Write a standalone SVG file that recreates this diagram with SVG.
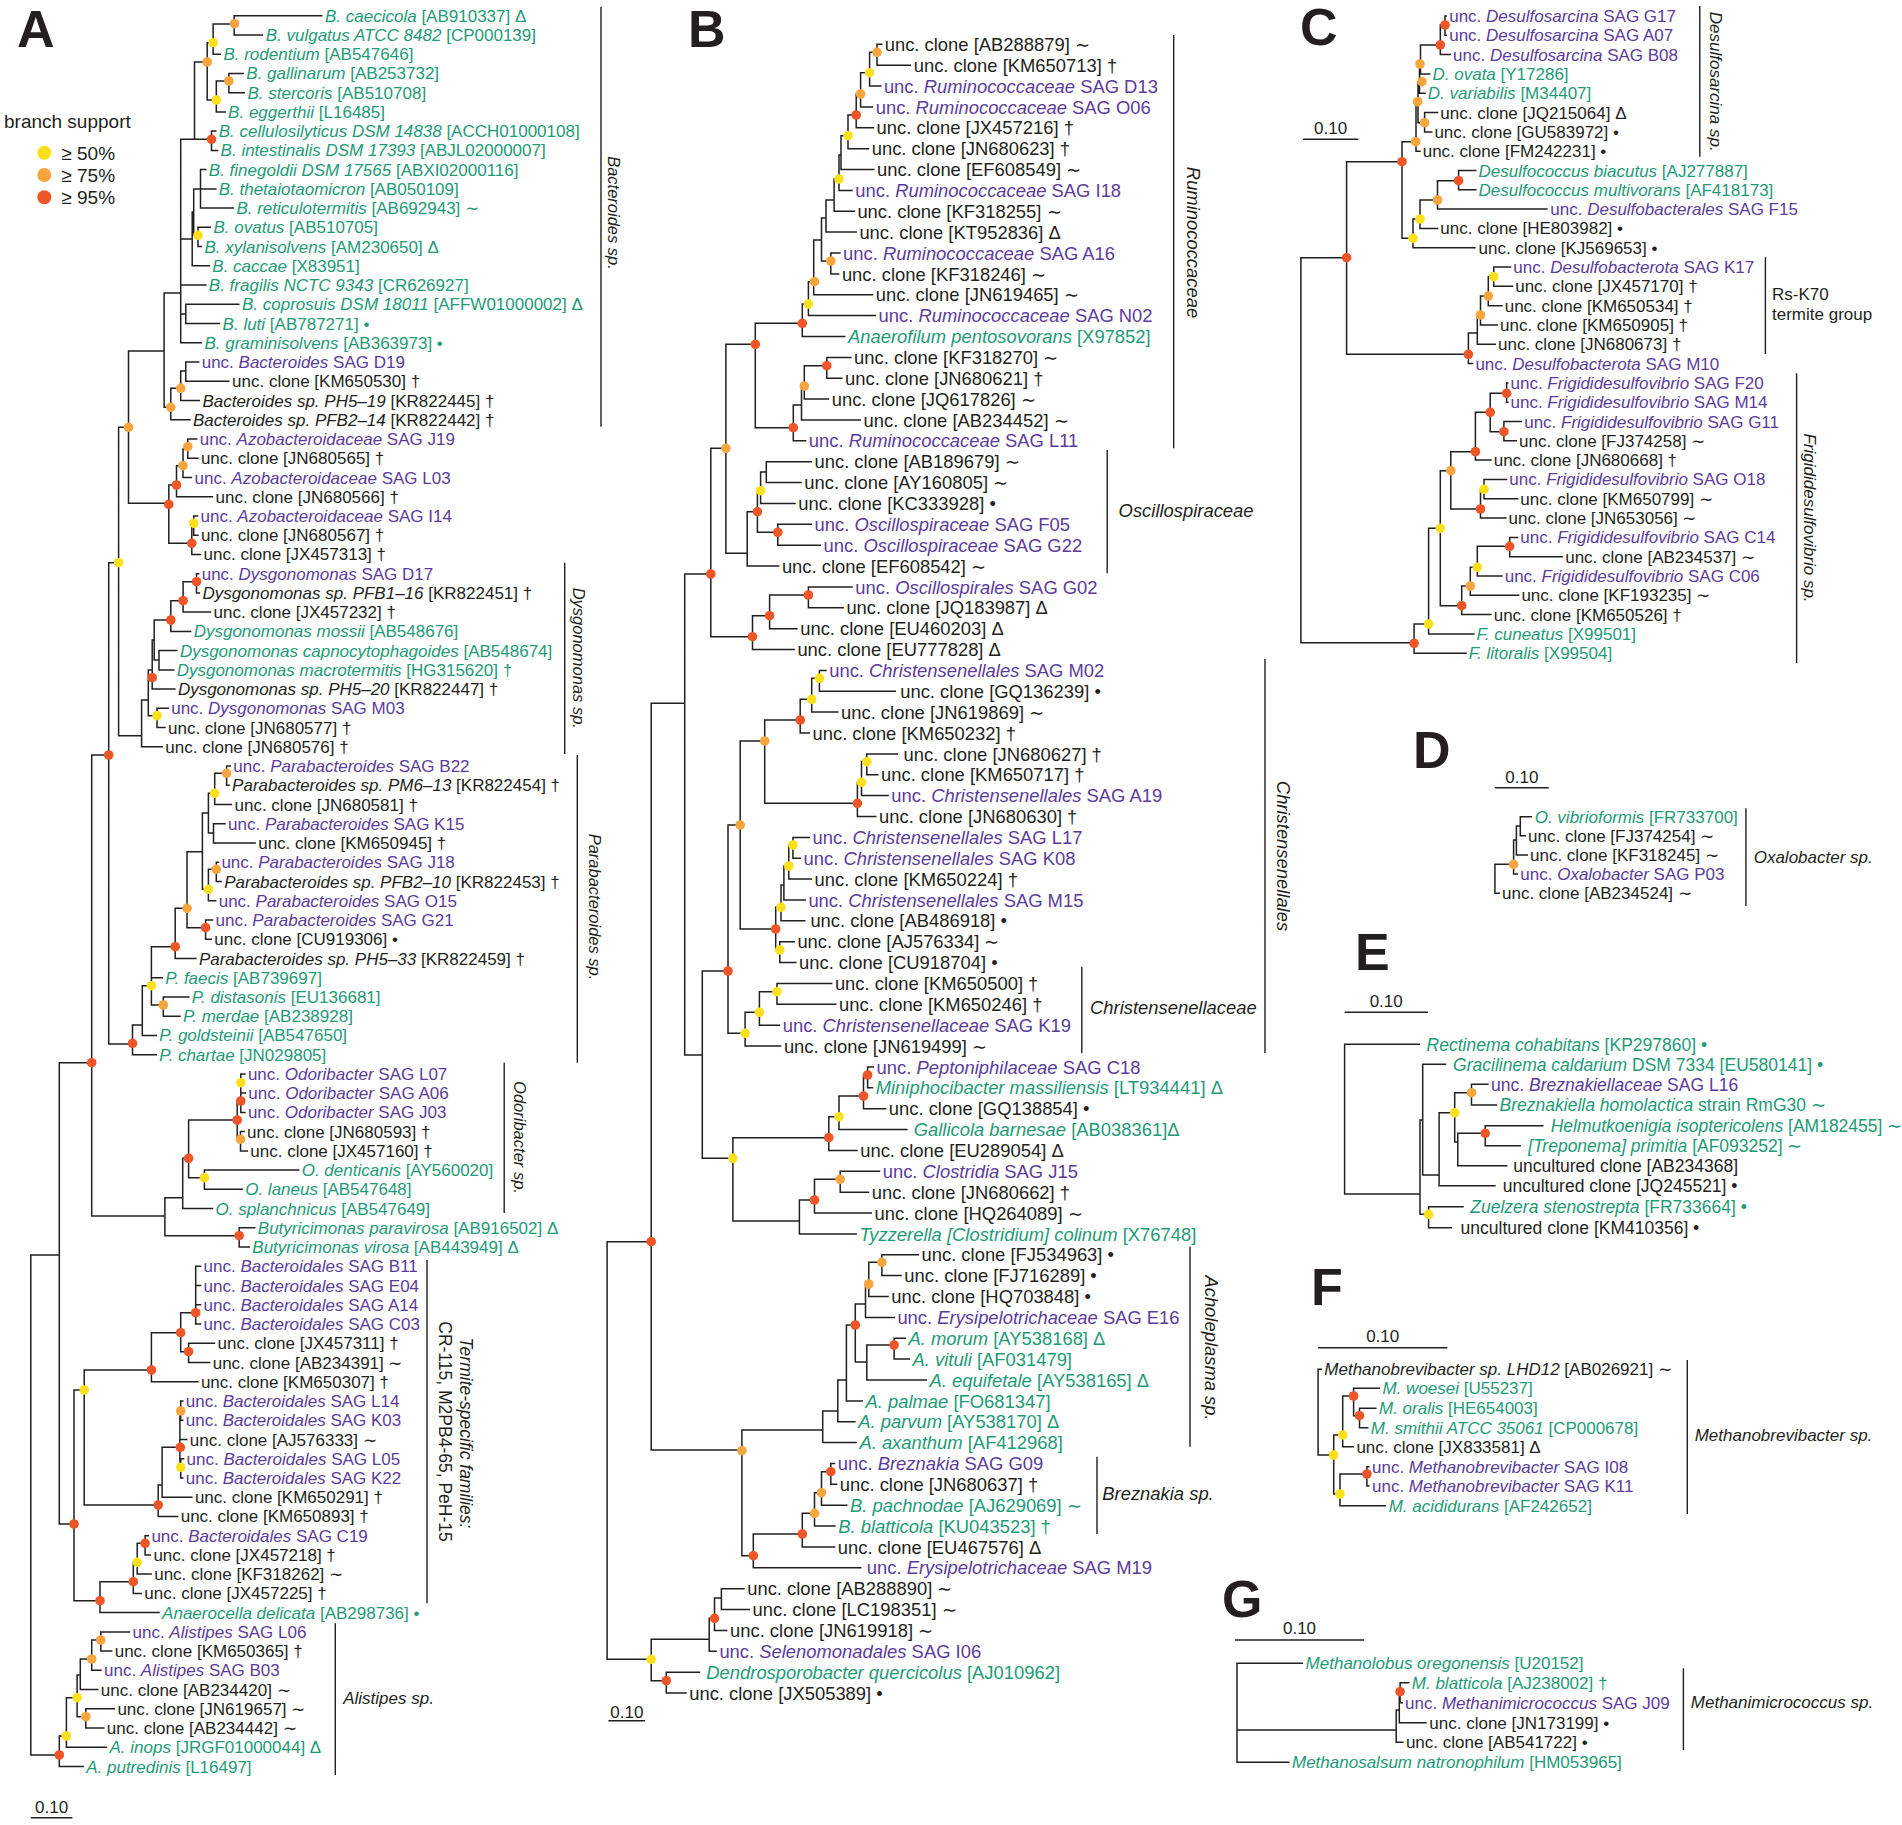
<svg xmlns="http://www.w3.org/2000/svg" width="1902" height="1825" viewBox="0 0 1902 1825">
<style>
text{font-family:"Liberation Sans",Arial,Helvetica,sans-serif;font-size:17px;fill:#231f20}
.B text{font-size:18.4px}
.E text{font-size:17.5px}
.g{fill:#1e9b78}
.p{fill:#5b3c9b}
.i{font-style:italic}
.br{fill:none;stroke:#231f20;stroke-width:1.5}
.bar{fill:none;stroke:#231f20;stroke-width:1.4}
.y{fill:#fbe11d}
.o{fill:#f6a53f}
.r{fill:#ee5627}
text.L{font-weight:bold;font-size:52px}
text.cl{font-style:italic;font-size:16.5px}
.B text.cl{font-size:18.4px}
text.lg{font-size:19px}
</style>
<rect width="1902" height="1825" fill="#ffffff"/>

<g id="panel-letters">
<text class="L" x="17" y="46.7">A</text>
<text class="L" x="688" y="46.7">B</text>
<text class="L" x="1300" y="45">C</text>
<text class="L" x="1413" y="768">D</text>
<text class="L" x="1355" y="970">E</text>
<text class="L" x="1311" y="1305">F</text>
<text class="L" x="1222" y="1617">G</text>
</g>

<g id="legend">
<text class="lg" x="4" y="128">branch support</text>
<circle cx="44.3" cy="152.7" r="7" class="y"/>
<circle cx="44.3" cy="175" r="7" class="o"/>
<circle cx="44.3" cy="197.3" r="7" class="r"/>
<text class="lg" x="61.3" y="159.5">≥ 50%</text>
<text class="lg" x="61.3" y="181.8">≥ 75%</text>
<text class="lg" x="61.3" y="204.1">≥ 95%</text>
</g>

<g id="connectors">
<path id="treeA" class="br" d="M322.5 15.7H234.1V34.9H263.2M234.1 24H213.1V54.2H221M244 73.4H228.9V92.7H245M228.9 81H216.3V111.9H226M213.1 42.7H207.2V100H216.3M216.5 131.1H211.5V150.4H218.3M207.2 62H194.5V139.3H211.5M206.5 169.6H200.5V208.1H234M200.5 188.9H216.5M211 227.3H198V246.6H202M200.5 189H193.7V235.3H198M193.7 212H192.2V265.8H210M239.5 304.3H185.8V323.5H220.3M194.5 139.3H180.7V342.8H202M180.7 239H192.2M180.7 285.1H206.5M180.7 314H185.8M199.4 362H185.8V381.3H229.5M185.8 371H180.7V400.5H200M180.7 388.3H170.8V419.7H190.7M180.7 293H164.1V407.3H170.8M197.4 439H187.8V458.2H198.6M187.8 449H183V477.5H192.2M183 465.7H176.5V496.7H213.2M198.2 515.9H193.7V535.2H198.6M193.7 525H191.8V554.4H201.3M176.5 485H168.8V543.3H191.8M164.1 351H128.5V503.3H168.8M199.4 573.7H196.5V592.9H200.1M196.5 581.7H183.1V612.1H211.2M183.1 600.7H170.8V631.4H191.4M177.6 650.6H159V669.9H174.4M170.8 620H154.2V660H159M154.2 640H152.2V689.1H175.6M168.9 708.3H157V727.6H165.7M152.2 670H148.3V715.7H157M148.3 700H141.6V746.8H163M128.5 427.3H118.6V735.7H141.6M231 766.1H226.6V785.3H229.8M226.6 773.3H214.7V804.5H232.2M225.8 823.8H213.5V843H255.9M214.7 793.3H208.4V833H213.5M219.1 862.3H216.3V881.5H221.9M216.3 869.3H208.4V900.7H216.4M208.4 813H202.4V889.3H208.4M213.2 920H205.6V939.2H212M202.4 851.7H187V927.7H205.6M187 908.3H175.2V958.5H196.6M189.5 996.9H163.3V1016.2H180.8M175.2 946.7H151.4V1005H163.3M151.4 977.7H163M151.4 985.7H142.3V1035.4H157M142.3 1025H132.5V1054.7H157M118.6 562.7H108.7V1044H132.5M245.6 1073.9H240.8V1093.1H246M240.8 1082.7V1112.4H245.6M244.8 1131.6H240.5V1150.9H248M240.8 1101H237.2V1139.3H240.5M299.4 1170.1H204.4V1189.3H242.9M237.2 1120H188.6V1177.7H204.4M188.6 1158.3H182.7V1208.6H213.2M255.5 1227.8H239.2V1247.1H250M182.7 1197.7H164.9V1235.7H239.2M108.7 755H91.7V1216H164.9M201.3 1266.3H195.7V1324H201.3M195.7 1285.5H201.3M195.7 1304.8H201.3M215.2 1343.3H188.6V1362.5H210.4M195.7 1312.7H180.7V1351.7H188.6M180.7 1332.7H151.4V1381.7H198.6M183.5 1401H180.7V1420.2H183.5M184.3 1458.7H180.7V1477.9H183.5M180.7 1411H179.9V1467.3H180.7M179.9 1439.5H187.5M179.9 1447.3H162.1V1497.2H192.6M162.1 1485H158.2V1516.4H178.4M151.4 1370H84.2V1505H158.2M149.1 1535.7H145.1V1554.9H151.1M145.1 1543.3H137.2V1574.1H151.9M137.2 1562.3H133.3V1593.4H142M133.3 1581.7H100V1612.6H159.8M84.2 1390H74V1600.7H100M91.7 1062.7H59.3V1524H74M130.2 1631.9H100.8V1651.1H112.4M100.8 1640H91.7V1670.3H101.7M91.7 1659H80.3V1689.6H98.5M115.1 1708.8H85.8V1728.1H104.5M80.3 1675H77.1V1716.7H85.8M77.1 1697.7H66.4V1747.3H107.2M66.4 1736H59.3V1766.5H83.9M59.3 1255H30.8V1755H59.3"/>
<path id="treeB" class="br" d="M882.5 44.3H877V65.2H911M877 52.3H869.6V86H881.5M869.6 72.7H860.6V106.9H873.2M860.6 94H856.2V127.8H874.1M856.2 115H848V148.7H869.2M848 135.7H841V169.5H874.5M841 155H839V190.4H852.8M839 179H834.1V211.3H854.9M834.1 200H826V232.1H856.9M840.6 253H830.8V273.9H839.4M826 218H821.5V261H830.8M821.5 240H813.7V294.7H873.2M813.7 281.7H808.4V315.6H876.1M808.4 304H802.3V336.5H845.5M851.6 357.4H826.8V378.2H842.6M826.8 365.7H804.3V399.1H829.2M804.3 386H801.5V420H861M801.5 405H793.3V440.8H806.3M802.3 323.3H755.3V427.7H793.3M812 461.7H766.3V482.6H801.8M766.3 472H760.6V503.4H795.7M812 524.3H777.8V545.2H821M760.6 490.7H757.4V532.3H777.8M757.4 511.7H747.2V566.1H779.4M755.3 344.3H725.9V553.3H747.2M852.8 586.9H808.4V607.8H843.9M808.4 595H769.6V628.7H797.7M769.6 615.7H752.5V649.5H794.9M725.9 448.3H710.8V636.7H752.5M826.7 670.4H819.4V691.3H896M819.4 678.3H811.7V712.1H838.5M811.7 699.3H800.2V733H810M898 753.9H866.8V774.8H878.5M866.8 761.7H861.5V795.6H888.8M861.5 782.3H857.4V816.5H876.5M800.2 720H764.7V803.3H857.4M810 837.4H792.9V858.2H801M792.9 845H788.8V879.1H812M788.8 866H783.9V900H805.9M783.9 885H781V920.8H805.5M794.9 941.7H779.8V962.6H796.5M781 907.3H775.7V950H779.8M764.7 741H740.2V929H775.7M832.4 983.5H777V1004.3H836.5M777 991.7H759.4V1025.2H780.2M759.4 1012.3H745.1V1046.1H781.4M740.2 825H728V1033.3H745.1M874.1 1066.9H867.6V1087.8H873.2M867.6 1075H863.5V1108.7H886.3M863.5 1096H839V1129.5H907.6M839 1116.7H828.8V1150.4H857.7M880.2 1171.3H840.2V1192.2H869.2M840.2 1179.3H814.5V1213H872M814.5 1200H799.4V1233.9H856.9M828.8 1137.7H732.9V1221H799.4M728 971H702.3V1158.3H732.9M710.8 574H684.7V1055H702.3M919 1254.8H881.9V1275.6H901.8M881.9 1262.3H868.8V1296.5H888.8M868.8 1284H865.5V1317.4H894.9M905.9 1338.2H894.1V1359.1H910M894.1 1345H866.8V1380H927.1M865.5 1304H855.3V1362H866.8M855.3 1325H846.4V1400.9H863M846.4 1380H837.8V1421.7H855.7M837.8 1411H822.7V1442.6H856.9M835.3 1463.5H830.8V1484.3H837.3M830.8 1471.7H821.5V1505.2H847.5M821.5 1492.7H814.5V1526.1H835.7M814.5 1513.3H802.3V1546.9H835.3M802.3 1534H753.3V1567.8H861.5M822.7 1430H741.9V1555.7H753.3M684.7 703.3H651.2V1450H741.9M744.7 1588.7H721.4V1609.6H750M721.4 1598H714.5V1630.4H727.5M714.5 1618.3H709.2V1651.3H716.9M700.2 1672.2H666.3V1693H686.7M709.2 1639.3H651.2V1680.7H666.3M651.2 1241.7H607.1V1659.3H651.2"/>
<path id="treeC" class="br" d="M1447 16H1445V35.3H1447M1445 25H1440.3V54.6H1451M1440.3 45H1420.5V73.9H1430.5M1420.5 64H1419.5V93.2H1425.8M1419.5 81.7H1418V122.7H1424.6M1438.3 112.6H1424.6V131.9H1432.4M1418 101.7H1416V151.2H1420.7M1476.5 170.5H1458.6V189.8H1476.5M1458.6 180.7H1437.5V209.1H1547.6M1437.5 200H1420V228.4H1438.3M1420 219H1413V247.7H1475.7M1416 141.7H1402V238.3H1413M1511.3 267H1493.7V286.3H1513.2M1493.7 276.7H1488.3V305.7H1502.7M1488.3 296H1480.5V325H1498M1480.5 315H1477.3V344.3H1496M1477.3 333H1468.4V363.6H1473.4M1402 161.7H1346.6V354.3H1468.4M1508.5 382.9H1506.6V402.2H1508.5M1522.2 421.5H1503.9V440.8H1517.1M1506.6 393.3H1490.2V431.7H1503.9M1490.2 412.3H1475.4V460.1H1491.7M1507.3 479.4H1484V498.7H1518.3M1484 489.3H1480.5V518.1H1506.6M1475.4 451.7H1450.8V509H1480.5M1518.3 537.4H1509.7V556.7H1563.2M1509.7 546.3H1477.3V576H1502.7M1477.3 567.3H1470.3V595.3H1519.4M1470.3 586H1461.7V614.6H1491.7M1450.8 470.7H1440.3V605.7H1461.7M1440.3 528.3H1428.6V633.9H1474.6M1428.6 624H1414.1V653.2H1466.8M1346.6 257.7H1300.9V642.7H1414.1"/>
<path id="treeD" class="br" d="M1532 816.7H1520.3V835.7H1526M1520.3 826H1516.4V855H1528M1516.4 840H1513.6V874H1518M1513.6 864.3H1494.9V893.3H1500"/>
<path id="treeE" class="br" d="M1488.5 1084.3H1471.5V1105H1497M1543.5 1125.7H1485.2V1145.7H1521M1485.2 1133.3H1457.8V1165.7H1507.5M1471.5 1092.7H1454.7V1142H1457.8M1454.7 1112.7H1439.1V1185.7H1495.7M1446.2 1064.3H1422.7V1175H1439.1M1463.7 1206.7H1428.6V1227.7H1452M1422.7 1120H1420V1214.3H1428.6M1420 1044.3H1344.6V1194H1420"/>
<path id="treeF" class="br" d="M1376.5 1408.3H1359.5V1427.7H1368.5M1380 1388.3H1353.6V1415.7H1359.5M1353.6 1396H1342.7V1446.7H1354M1369.5 1466.7H1366.9V1486H1369.5M1366.9 1474H1340V1505.7H1386M1342.7 1435H1333.7V1494H1340M1322 1369.3H1318.1V1455H1333.7"/>
<path id="treeG" class="br" d="M1409.5 1682.7H1400.1V1702.7H1403M1400.1 1691.7H1399.3V1722.7H1426.6M1399.3 1710H1396.2V1742.3H1403.5M1303 1663.3H1237V1762.3H1289.5M1237 1730H1396.2"/>
<path id="scalebars" class="br" d="M30.8 1817.7H72.4M608.4 1720.7H645.1M1302.9 139.3H1358.3M1494.9 787.7H1548.8M1344.6 1012.3H1427.8M1318.1 1347.7H1447.3M1235 1640H1364"/>
<path id="cladebars" class="bar" d="M601 6.7V426.7M564.7 562.7V754M577.3 755V1062.7M504.2 1062.7V1213M427 1260V1603.3M335.3 1623.3V1775M1173.7 35V448.3M1107.2 450V573.3M1265 659V1053M1081.8 966.7V1053.3M1190 1246.7V1446.7M1097 1456.7V1534M1699.8 6V156.7M1765.4 257.3V354M1796.6 373.3V663.3M1745.9 808.3V906M1687.3 1360V1514M1683.4 1668.3V1750"/>
</g>

<g id="support-dots">
<g class="y">
<circle cx="213.1" cy="42.7" r="4.8"/><circle cx="216.3" cy="100" r="4.8"/><circle cx="198" cy="235.3" r="4.8"/><circle cx="193.7" cy="523.3" r="4.8"/><circle cx="118.6" cy="562.7" r="4.8"/><circle cx="157" cy="715.7" r="4.8"/><circle cx="214.7" cy="793.3" r="4.8"/><circle cx="208.4" cy="889.3" r="4.8"/><circle cx="151.4" cy="985.7" r="4.8"/><circle cx="240.8" cy="1082.7" r="4.8"/><circle cx="204.4" cy="1177.7" r="4.8"/><circle cx="84.2" cy="1390" r="4.8"/><circle cx="180.7" cy="1467.3" r="4.8"/><circle cx="137.2" cy="1562.3" r="4.8"/><circle cx="77.1" cy="1697.7" r="4.8"/><circle cx="66.4" cy="1736" r="4.8"/>
<circle cx="869.6" cy="72.7" r="4.8"/><circle cx="848" cy="135.7" r="4.8"/><circle cx="839" cy="179" r="4.8"/><circle cx="808.4" cy="304" r="4.8"/><circle cx="760.6" cy="490.7" r="4.8"/><circle cx="819.4" cy="678.3" r="4.8"/><circle cx="811.7" cy="699.3" r="4.8"/><circle cx="866.8" cy="761.7" r="4.8"/><circle cx="861.5" cy="782.3" r="4.8"/><circle cx="792.9" cy="845" r="4.8"/><circle cx="788.8" cy="866" r="4.8"/><circle cx="781" cy="907.3" r="4.8"/><circle cx="779.8" cy="950" r="4.8"/><circle cx="777" cy="991.7" r="4.8"/><circle cx="759.4" cy="1012.3" r="4.8"/><circle cx="745.1" cy="1033.3" r="4.8"/><circle cx="839" cy="1116.7" r="4.8"/><circle cx="732.9" cy="1158.3" r="4.8"/><circle cx="651.2" cy="1659.3" r="4.8"/>
<circle cx="1420" cy="219" r="4.8"/><circle cx="1413" cy="238.3" r="4.8"/><circle cx="1493.7" cy="276.7" r="4.8"/><circle cx="1484" cy="489.3" r="4.8"/><circle cx="1440.3" cy="528.3" r="4.8"/><circle cx="1477.3" cy="567.3" r="4.8"/><circle cx="1428.6" cy="624" r="4.8"/>
<circle cx="1454.7" cy="1112.7" r="4.8"/><circle cx="1428.6" cy="1214.3" r="4.8"/><circle cx="1342.7" cy="1435" r="4.8"/><circle cx="1333.7" cy="1455" r="4.8"/><circle cx="1340" cy="1494" r="4.8"/>
</g>
<g class="o">
<circle cx="234.5" cy="23.7" r="4.8"/><circle cx="228.9" cy="81" r="4.8"/><circle cx="207.2" cy="62" r="4.8"/><circle cx="180.7" cy="388.3" r="4.8"/><circle cx="170.8" cy="407.3" r="4.8"/><circle cx="128.5" cy="427.3" r="4.8"/><circle cx="187.8" cy="446.7" r="4.8"/><circle cx="183" cy="465.7" r="4.8"/><circle cx="226.6" cy="773.3" r="4.8"/><circle cx="216.3" cy="869.3" r="4.8"/><circle cx="187" cy="908.3" r="4.8"/><circle cx="163.3" cy="1005" r="4.8"/><circle cx="240.5" cy="1139.3" r="4.8"/><circle cx="180.7" cy="1411" r="4.8"/><circle cx="100.8" cy="1640" r="4.8"/><circle cx="91.7" cy="1659" r="4.8"/><circle cx="85.8" cy="1716.7" r="4.8"/>
<circle cx="877" cy="52.3" r="4.8"/><circle cx="860.6" cy="94" r="4.8"/><circle cx="830.8" cy="261" r="4.8"/><circle cx="814.5" cy="281.7" r="4.8"/><circle cx="804.3" cy="386" r="4.8"/><circle cx="725.9" cy="448.3" r="4.8"/><circle cx="764.7" cy="741" r="4.8"/><circle cx="740.2" cy="825" r="4.8"/><circle cx="840.2" cy="1179.3" r="4.8"/><circle cx="881.9" cy="1262.3" r="4.8"/><circle cx="868.8" cy="1284" r="4.8"/><circle cx="741.9" cy="1450.7" r="4.8"/><circle cx="821.5" cy="1492.7" r="4.8"/><circle cx="814.5" cy="1513.3" r="4.8"/>
<circle cx="1420" cy="64" r="4.8"/><circle cx="1421.9" cy="81.7" r="4.8"/><circle cx="1417.6" cy="101.7" r="4.8"/><circle cx="1424.6" cy="122.7" r="4.8"/><circle cx="1415.7" cy="141.7" r="4.8"/><circle cx="1437.5" cy="200" r="4.8"/><circle cx="1488.3" cy="296" r="4.8"/><circle cx="1480.5" cy="315" r="4.8"/><circle cx="1450.8" cy="470.7" r="4.8"/><circle cx="1470.3" cy="586" r="4.8"/>
<circle cx="1513.6" cy="864.3" r="4.8"/><circle cx="1471.5" cy="1092.7" r="4.8"/>
</g>
<g class="r">
<circle cx="211.5" cy="139.3" r="4.8"/><circle cx="176.5" cy="485" r="4.8"/><circle cx="168.8" cy="504.3" r="4.8"/><circle cx="191.8" cy="543.3" r="4.8"/><circle cx="196.5" cy="581.7" r="4.8"/><circle cx="183.1" cy="600.7" r="4.8"/><circle cx="170.8" cy="620" r="4.8"/><circle cx="152.2" cy="677.7" r="4.8"/><circle cx="108.7" cy="755" r="4.8"/><circle cx="205.6" cy="927.7" r="4.8"/><circle cx="175.2" cy="946.7" r="4.8"/><circle cx="132.5" cy="1043.3" r="4.8"/><circle cx="91.7" cy="1062.7" r="4.8"/><circle cx="240.8" cy="1101" r="4.8"/><circle cx="237.2" cy="1120" r="4.8"/><circle cx="188.6" cy="1158.3" r="4.8"/><circle cx="239.2" cy="1235.7" r="4.8"/><circle cx="195.7" cy="1312.7" r="4.8"/><circle cx="180.7" cy="1332.7" r="4.8"/><circle cx="188.6" cy="1351.7" r="4.8"/><circle cx="151.4" cy="1370" r="4.8"/><circle cx="180.3" cy="1447.3" r="4.8"/><circle cx="158.2" cy="1505" r="4.8"/><circle cx="74" cy="1524" r="4.8"/><circle cx="145.1" cy="1543.3" r="4.8"/><circle cx="133.3" cy="1581.7" r="4.8"/><circle cx="100" cy="1600.7" r="4.8"/><circle cx="59.3" cy="1755" r="4.8"/>
<circle cx="856.2" cy="115" r="4.8"/><circle cx="802.3" cy="323.3" r="4.8"/><circle cx="755.3" cy="344.3" r="4.8"/><circle cx="826.8" cy="365.7" r="4.8"/><circle cx="793.3" cy="427.7" r="4.8"/><circle cx="757.4" cy="511.7" r="4.8"/><circle cx="777.8" cy="532.3" r="4.8"/><circle cx="710.8" cy="574" r="4.8"/><circle cx="808.4" cy="595" r="4.8"/><circle cx="769.6" cy="615.7" r="4.8"/><circle cx="752.5" cy="636.7" r="4.8"/><circle cx="800.2" cy="720" r="4.8"/><circle cx="857.4" cy="803.3" r="4.8"/><circle cx="775.7" cy="929" r="4.8"/><circle cx="728" cy="971" r="4.8"/><circle cx="867.6" cy="1075" r="4.8"/><circle cx="863.5" cy="1096" r="4.8"/><circle cx="828.8" cy="1137.7" r="4.8"/><circle cx="814.5" cy="1200" r="4.8"/><circle cx="651.2" cy="1241.7" r="4.8"/><circle cx="855.3" cy="1325" r="4.8"/><circle cx="894.1" cy="1345" r="4.8"/><circle cx="830.8" cy="1471.7" r="4.8"/><circle cx="802.3" cy="1534" r="4.8"/><circle cx="753.3" cy="1555.7" r="4.8"/><circle cx="714.5" cy="1618.3" r="4.8"/><circle cx="666.3" cy="1680.7" r="4.8"/>
<circle cx="1445" cy="25" r="4.8"/><circle cx="1440.3" cy="45" r="4.8"/><circle cx="1402" cy="161.7" r="4.8"/><circle cx="1458.6" cy="180.7" r="4.8"/><circle cx="1346.6" cy="257.7" r="4.8"/><circle cx="1468.4" cy="354.3" r="4.8"/><circle cx="1506.6" cy="393.3" r="4.8"/><circle cx="1490.2" cy="412.3" r="4.8"/><circle cx="1503.9" cy="431.7" r="4.8"/><circle cx="1475.4" cy="451.7" r="4.8"/><circle cx="1480.5" cy="509" r="4.8"/><circle cx="1509.7" cy="546.3" r="4.8"/><circle cx="1461.7" cy="605.7" r="4.8"/><circle cx="1414.1" cy="643.3" r="4.8"/>
<circle cx="1485.2" cy="1133.3" r="4.8"/><circle cx="1353.6" cy="1396" r="4.8"/><circle cx="1359.5" cy="1415.7" r="4.8"/><circle cx="1366.9" cy="1474" r="4.8"/><circle cx="1400.1" cy="1691.7" r="4.8"/>
</g>
</g>

<g id="scale-labels" text-anchor="middle">
<text x="51.6" y="1812.7">0.10</text>
<text x="626.8" y="1717.5">0.10</text>
<text x="1330.6" y="133.7">0.10</text>
<text x="1521.9" y="782.7">0.10</text>
<text x="1386.2" y="1006.7">0.10</text>
<text x="1382.7" y="1342">0.10</text>
<text x="1299.5" y="1633.7">0.10</text>
</g>

<g id="panelA">
<g id="A-bacteroides">
<text x="325" y="21.7" class="g"><tspan class="i">B. caecicola</tspan> [AB910337] Δ</text>
<text x="265.7" y="40.9" class="g"><tspan class="i">B. vulgatus ATCC 8482</tspan> [CP000139]</text>
<text x="223.4" y="60.2" class="g"><tspan class="i">B. rodentium</tspan> [AB547646]</text>
<text x="246.3" y="79.4" class="g"><tspan class="i">B. gallinarum</tspan> [AB253732]</text>
<text x="247.5" y="98.7" class="g"><tspan class="i">B. stercoris</tspan> [AB510708]</text>
<text x="228.1" y="117.9" class="g"><tspan class="i">B. eggerthii</tspan> [L16485]</text>
<text x="218.7" y="137.1" class="g"><tspan class="i">B. cellulosilyticus DSM 14838</tspan> [ACCH01000108]</text>
<text x="220.6" y="156.4" class="g"><tspan class="i">B. intestinalis DSM 17393</tspan> [ABJL02000007]</text>
<text x="208.8" y="175.6" class="g"><tspan class="i">B. finegoldii DSM 17565</tspan> [ABXI02000116]</text>
<text x="218.7" y="194.9" class="g"><tspan class="i">B. thetaiotaomicron</tspan> [AB050109]</text>
<text x="236.4" y="214.1" class="g"><tspan class="i">B. reticulotermitis</tspan> [AB692943] ∼</text>
<text x="213.5" y="233.3" class="g"><tspan class="i">B. ovatus</tspan> [AB510705]</text>
<text x="204.4" y="252.6" class="g"><tspan class="i">B. xylanisolvens</tspan> [AM230650] Δ</text>
<text x="212.3" y="271.8" class="g"><tspan class="i">B. caccae</tspan> [X83951]</text>
<text x="208.8" y="291.1" class="g"><tspan class="i">B. fragilis NCTC 9343</tspan> [CR626927]</text>
<text x="242" y="310.3" class="g"><tspan class="i">B. coprosuis DSM 18011</tspan> [AFFW01000002] Δ</text>
<text x="222.6" y="329.5" class="g"><tspan class="i">B. luti</tspan> [AB787271] •</text>
<text x="204.4" y="348.8" class="g"><tspan class="i">B. graminisolvens</tspan> [AB363973] •</text>
<text x="201.7" y="368" class="p">unc. <tspan class="i">Bacteroides</tspan> SAG D19</text>
<text x="232.1" y="387.3">unc. clone [KM650530] †</text>
<text x="202.4" y="406.5"><tspan class="i">Bacteroides sp. PH5–19</tspan> [KR822445] †</text>
<text x="193" y="425.7"><tspan class="i">Bacteroides sp. PFB2–14</tspan> [KR822442] †</text>
</g>
<g id="A-azobacteroidaceae">
<text x="199.7" y="445" class="p">unc. <tspan class="i">Azobacteroidaceae</tspan> SAG J19</text>
<text x="200.9" y="464.2">unc. clone [JN680565] †</text>
<text x="194.5" y="483.5" class="p">unc. <tspan class="i">Azobacteroidaceae</tspan> SAG L03</text>
<text x="215.5" y="502.7">unc. clone [JN680566] †</text>
<text x="200.5" y="521.9" class="p">unc. <tspan class="i">Azobacteroidaceae</tspan> SAG I14</text>
<text x="200.9" y="541.2">unc. clone [JN680567] †</text>
<text x="203.6" y="560.4">unc. clone [JX457313] †</text>
</g>
<g id="A-dysgonomonas">
<text x="201.7" y="579.7" class="p">unc. <tspan class="i">Dysgonomonas</tspan> SAG D17</text>
<text x="202.4" y="598.9"><tspan class="i">Dysgonomonas sp. PFB1–16</tspan> [KR822451] †</text>
<text x="213.5" y="618.1">unc. clone [JX457232] †</text>
<text x="193.7" y="637.4" class="g"><tspan class="i">Dysgonomonas mossii</tspan> [AB548676]</text>
<text x="179.9" y="656.6" class="g"><tspan class="i">Dysgonomonas capnocytophagoides</tspan> [AB548674]</text>
<text x="176.7" y="675.9" class="g"><tspan class="i">Dysgonomonas macrotermitis</tspan> [HG315620] †</text>
<text x="177.9" y="695.1"><tspan class="i">Dysgonomonas sp. PH5–20</tspan> [KR822447] †</text>
<text x="171.2" y="714.3" class="p">unc. <tspan class="i">Dysgonomonas</tspan> SAG M03</text>
<text x="168" y="733.6">unc. clone [JN680577] †</text>
<text x="165.3" y="752.8">unc. clone [JN680576] †</text>
</g>
<g id="A-parabacteroides">
<text x="233.3" y="772.1" class="p">unc. <tspan class="i">Parabacteroides</tspan> SAG B22</text>
<text x="232.1" y="791.3"><tspan class="i">Parabacteroides sp. PM6–13</tspan> [KR822454] †</text>
<text x="234.5" y="810.5">unc. clone [JN680581] †</text>
<text x="228.1" y="829.8" class="p">unc. <tspan class="i">Parabacteroides</tspan> SAG K15</text>
<text x="258.2" y="849">unc. clone [KM650945] †</text>
<text x="221.4" y="868.3" class="p">unc. <tspan class="i">Parabacteroides</tspan> SAG J18</text>
<text x="224.2" y="887.5"><tspan class="i">Parabacteroides sp. PFB2–10</tspan> [KR822453] †</text>
<text x="218.7" y="906.7" class="p">unc. <tspan class="i">Parabacteroides</tspan> SAG O15</text>
<text x="215.5" y="926" class="p">unc. <tspan class="i">Parabacteroides</tspan> SAG G21</text>
<text x="214.3" y="945.2">unc. clone [CU919306] •</text>
<text x="198.9" y="964.5"><tspan class="i">Parabacteroides sp. PH5–33</tspan> [KR822459] †</text>
<text x="165.3" y="983.7" class="g"><tspan class="i">P. faecis</tspan> [AB739697]</text>
<text x="191.8" y="1002.9" class="g"><tspan class="i">P. distasonis</tspan> [EU136681]</text>
<text x="183.1" y="1022.2" class="g"><tspan class="i">P. merdae</tspan> [AB238928]</text>
<text x="159.3" y="1041.4" class="g"><tspan class="i">P. goldsteinii</tspan> [AB547650]</text>
<text x="159.3" y="1060.7" class="g"><tspan class="i">P. chartae</tspan> [JN029805]</text>
</g>
<g id="A-odoribacter">
<text x="247.9" y="1079.9" class="p">unc. <tspan class="i">Odoribacter</tspan> SAG L07</text>
<text x="248.3" y="1099.1" class="p">unc. <tspan class="i">Odoribacter</tspan> SAG A06</text>
<text x="247.9" y="1118.4" class="p">unc. <tspan class="i">Odoribacter</tspan> SAG J03</text>
<text x="247.1" y="1137.6">unc. clone [JN680593] †</text>
<text x="250.3" y="1156.9">unc. clone [JX457160] †</text>
<text x="301.7" y="1176.1" class="g"><tspan class="i">O. denticanis</tspan> [AY560020]</text>
<text x="245.2" y="1195.3" class="g"><tspan class="i">O. laneus</tspan> [AB547648]</text>
<text x="215.5" y="1214.6" class="g"><tspan class="i">O. splanchnicus</tspan> [AB547649]</text>
<text x="257.8" y="1233.8" class="g"><tspan class="i">Butyricimonas paravirosa</tspan> [AB916502] Δ</text>
<text x="252.3" y="1253.1" class="g"><tspan class="i">Butyricimonas virosa</tspan> [AB443949] Δ</text>
</g>
<g id="A-termite-families">
<text x="203.6" y="1272.3" class="p">unc. <tspan class="i">Bacteroidales</tspan> SAG B11</text>
<text x="203.6" y="1291.5" class="p">unc. <tspan class="i">Bacteroidales</tspan> SAG E04</text>
<text x="203.6" y="1310.8" class="p">unc. <tspan class="i">Bacteroidales</tspan> SAG A14</text>
<text x="203.6" y="1330" class="p">unc. <tspan class="i">Bacteroidales</tspan> SAG C03</text>
<text x="217.5" y="1349.3">unc. clone [JX457311] †</text>
<text x="212.7" y="1368.5">unc. clone [AB234391] ∼</text>
<text x="200.9" y="1387.7">unc. clone [KM650307] †</text>
<text x="185.8" y="1407" class="p">unc. <tspan class="i">Bacteroidales</tspan> SAG L14</text>
<text x="185.8" y="1426.2" class="p">unc. <tspan class="i">Bacteroidales</tspan> SAG K03</text>
<text x="189.8" y="1445.5">unc. clone [AJ576333] ∼</text>
<text x="186.6" y="1464.7" class="p">unc. <tspan class="i">Bacteroidales</tspan> SAG L05</text>
<text x="185.8" y="1483.9" class="p">unc. <tspan class="i">Bacteroidales</tspan> SAG K22</text>
<text x="194.9" y="1503.2">unc. clone [KM650291] †</text>
<text x="180.7" y="1522.4">unc. clone [KM650893] †</text>
<text x="151.4" y="1541.7" class="p">unc. <tspan class="i">Bacteroidales</tspan> SAG C19</text>
<text x="153.4" y="1560.9">unc. clone [JX457218] †</text>
<text x="154.2" y="1580.1">unc. clone [KF318262] ∼</text>
<text x="144.3" y="1599.4">unc. clone [JX457225] †</text>
<text x="162.1" y="1618.6" class="g"><tspan class="i">Anaerocella delicata</tspan> [AB298736] •</text>
</g>
<g id="A-alistipes">
<text x="132.5" y="1637.9" class="p">unc. <tspan class="i">Alistipes</tspan> SAG L06</text>
<text x="114.7" y="1657.1">unc. clone [KM650365] †</text>
<text x="104" y="1676.3" class="p">unc. <tspan class="i">Alistipes</tspan> SAG B03</text>
<text x="100.8" y="1695.6">unc. clone [AB234420] ∼</text>
<text x="117.4" y="1714.8">unc. clone [JN619657] ∼</text>
<text x="106.8" y="1734.1">unc. clone [AB234442] ∼</text>
<text x="109.5" y="1753.3" class="g"><tspan class="i">A. inops</tspan> [JRGF01000044] Δ</text>
<text x="86.2" y="1772.5" class="g"><tspan class="i">A. putredinis</tspan> [L16497]</text>
</g>
<g id="A-clade-labels" text-anchor="middle">
<text class="cl" transform="translate(608 213) rotate(90)">Bacteroides sp.</text>
<text class="cl" transform="translate(573 658.3) rotate(90)">Dysgonomonas sp.</text>
<text class="cl" transform="translate(589 907) rotate(90)">Parabacteroides sp.</text>
<text class="cl" transform="translate(514 1137.5) rotate(90)">Odoribacter sp.</text>
<text class="cl" style="font-size:17.5px" transform="translate(460 1433) rotate(90)">Termite-specific families:</text>
<text style="font-size:17.5px" transform="translate(438.5 1431.5) rotate(90)">CR-115, M2PB4-65, PeH-15</text>
<text class="cl" x="343.2" y="1703.7" text-anchor="start" style="font-size:17px">Alistipes sp.</text>
</g>
</g>

<g id="panelB" class="B">
<g id="B-ruminococcaceae">
<text x="884.7" y="50.9">unc. clone [AB288879] ∼</text>
<text x="913.7" y="71.8">unc. clone [KM650713] †</text>
<text x="883.9" y="92.6" class="p">unc. <tspan class="i">Ruminococcaceae</tspan> SAG D13</text>
<text x="875.7" y="113.5" class="p">unc. <tspan class="i">Ruminococcaceae</tspan> SAG O06</text>
<text x="876.6" y="134.4">unc. clone [JX457216] †</text>
<text x="871.7" y="155.3">unc. clone [JN680623] †</text>
<text x="877" y="176.1">unc. clone [EF608549] ∼</text>
<text x="855.3" y="197" class="p">unc. <tspan class="i">Ruminococcaceae</tspan> SAG I18</text>
<text x="857.4" y="217.9">unc. clone [KF318255] ∼</text>
<text x="859.4" y="238.7">unc. clone [KT952836] Δ</text>
<text x="843.1" y="259.6" class="p">unc. <tspan class="i">Ruminococcaceae</tspan> SAG A16</text>
<text x="841.9" y="280.5">unc. clone [KF318246] ∼</text>
<text x="875.7" y="301.3">unc. clone [JN619465] ∼</text>
<text x="878.6" y="322.2" class="p">unc. <tspan class="i">Ruminococcaceae</tspan> SAG N02</text>
<text x="848" y="343.1" class="g"><tspan class="i">Anaerofilum pentosovorans</tspan> [X97852]</text>
<text x="854.1" y="364">unc. clone [KF318270] ∼</text>
<text x="845.1" y="384.8">unc. clone [JN680621] †</text>
<text x="831.7" y="405.7">unc. clone [JQ617826] ∼</text>
<text x="863.5" y="426.6">unc. clone [AB234452] ∼</text>
<text x="808.8" y="447.4" class="p">unc. <tspan class="i">Ruminococcaceae</tspan> SAG L11</text>
</g>
<g id="B-oscillospiraceae">
<text x="814.5" y="468.3">unc. clone [AB189679] ∼</text>
<text x="804.3" y="489.2">unc. clone [AY160805] ∼</text>
<text x="798.2" y="510">unc. clone [KC333928] •</text>
<text x="814.5" y="530.9" class="p">unc. <tspan class="i">Oscillospiraceae</tspan> SAG F05</text>
<text x="823.5" y="551.8" class="p">unc. <tspan class="i">Oscillospiraceae</tspan> SAG G22</text>
<text x="781.9" y="572.7">unc. clone [EF608542] ∼</text>
<text x="855.3" y="593.5" class="p">unc. <tspan class="i">Oscillospirales</tspan> SAG G02</text>
<text x="846.4" y="614.4">unc. clone [JQ183987] Δ</text>
<text x="800.2" y="635.3">unc. clone [EU460203] Δ</text>
<text x="797.4" y="656.1">unc. clone [EU777828] Δ</text>
</g>
<g id="B-christensenellales">
<text x="829.2" y="677" class="p">unc. <tspan class="i">Christensenellales</tspan> SAG M02</text>
<text x="900.2" y="697.9">unc. clone [GQ136239] •</text>
<text x="841" y="718.7">unc. clone [JN619869] ∼</text>
<text x="812.5" y="739.6">unc. clone [KM650232] †</text>
<text x="903.5" y="760.5">unc. clone [JN680627] †</text>
<text x="881" y="781.4">unc. clone [KM650717] †</text>
<text x="891.3" y="802.2" class="p">unc. <tspan class="i">Christensenellales</tspan> SAG A19</text>
<text x="879" y="823.1">unc. clone [JN680630] †</text>
<text x="812.5" y="844" class="p">unc. <tspan class="i">Christensenellales</tspan> SAG L17</text>
<text x="803.5" y="864.8" class="p">unc. <tspan class="i">Christensenellales</tspan> SAG K08</text>
<text x="814.5" y="885.7">unc. clone [KM650224] †</text>
<text x="808.4" y="906.6" class="p">unc. <tspan class="i">Christensenellales</tspan> SAG M15</text>
<text x="810.4" y="927.4">unc. clone [AB486918] •</text>
<text x="797.4" y="948.3">unc. clone [AJ576334] ∼</text>
<text x="799" y="969.2">unc. clone [CU918704] •</text>
<text x="834.9" y="990.1">unc. clone [KM650500] †</text>
<text x="839" y="1010.9">unc. clone [KM650246] †</text>
<text x="782.7" y="1031.8" class="p">unc. <tspan class="i">Christensenellaceae</tspan> SAG K19</text>
<text x="783.9" y="1052.7">unc. clone [JN619499] ∼</text>
</g>
<g id="B-clostridia">
<text x="876.6" y="1073.5" class="p">unc. <tspan class="i">Peptoniphilaceae</tspan> SAG C18</text>
<text x="875.7" y="1094.4" class="g"><tspan class="i">Miniphocibacter massiliensis</tspan> [LT934441] Δ</text>
<text x="888.8" y="1115.3">unc. clone [GQ138854] •</text>
<text x="913.7" y="1136.1" class="g"><tspan class="i">Gallicola barnesae</tspan> [AB038361]Δ</text>
<text x="860.2" y="1157">unc. clone [EU289054] Δ</text>
<text x="882.7" y="1177.9" class="p">unc. <tspan class="i">Clostridia</tspan> SAG J15</text>
<text x="871.7" y="1198.8">unc. clone [JN680662] †</text>
<text x="874.5" y="1219.6">unc. clone [HQ264089] ∼</text>
<text x="859.4" y="1240.5" class="g"><tspan class="i">Tyzzerella [Clostridium] colinum</tspan> [X76748]</text>
</g>
<g id="B-acholeplasma">
<text x="921.5" y="1261.4">unc. clone [FJ534963] •</text>
<text x="904.3" y="1282.2">unc. clone [FJ716289] •</text>
<text x="891.3" y="1303.1">unc. clone [HQ703848] •</text>
<text x="897.4" y="1324" class="p">unc. <tspan class="i">Erysipelotrichaceae</tspan> SAG E16</text>
<text x="908.4" y="1344.8" class="g"><tspan class="i">A. morum</tspan> [AY538168] Δ</text>
<text x="912.5" y="1365.7" class="g"><tspan class="i">A. vituli</tspan> [AF031479]</text>
<text x="929.6" y="1386.6" class="g"><tspan class="i">A. equifetale</tspan> [AY538165] Δ</text>
<text x="865.5" y="1407.5" class="g"><tspan class="i">A. palmae</tspan> [FO681347]</text>
<text x="858.2" y="1428.3" class="g"><tspan class="i">A. parvum</tspan> [AY538170] Δ</text>
<text x="859.4" y="1449.2" class="g"><tspan class="i">A. axanthum</tspan> [AF412968]</text>
</g>
<g id="B-breznakia">
<text x="837.8" y="1470.1" class="p">unc. <tspan class="i">Breznakia</tspan> SAG G09</text>
<text x="839.8" y="1490.9">unc. clone [JN680637] †</text>
<text x="850" y="1511.8" class="g"><tspan class="i">B. pachnodae</tspan> [AJ629069] ∼</text>
<text x="838.2" y="1532.7" class="g"><tspan class="i">B. blatticola</tspan> [KU043523] †</text>
<text x="837.8" y="1553.5">unc. clone [EU467576] Δ</text>
<text x="866.8" y="1574.4" class="p">unc. <tspan class="i">Erysipelotrichaceae</tspan> SAG M19</text>
</g>
<g id="B-selenomonadales">
<text x="747.2" y="1595.3">unc. clone [AB288890] ∼</text>
<text x="752.5" y="1616.2">unc. clone [LC198351] ∼</text>
<text x="730" y="1637">unc. clone [JN619918] ∼</text>
<text x="719.4" y="1657.9" class="p">unc. <tspan class="i">Selenomonadales</tspan> SAG I06</text>
<text x="706.3" y="1678.8" class="g"><tspan class="i">Dendrosporobacter quercicolus</tspan> [AJ010962]</text>
<text x="689.2" y="1699.6">unc. clone [JX505389] •</text>
</g>
<g id="B-clade-labels">
<text class="cl" text-anchor="middle" transform="translate(1187 242.5) rotate(90)">Ruminococcaceae</text>
<text class="cl" x="1118.6" y="516.6">Oscillospiraceae</text>
<text class="cl" text-anchor="middle" transform="translate(1277 856) rotate(90)">Christensenellales</text>
<text class="cl" x="1090" y="1013.9">Christensenellaceae</text>
<text class="cl" text-anchor="middle" transform="translate(1205.4 1348) rotate(90)">Acholeplasma sp.</text>
<text class="cl" x="1102.3" y="1500">Breznakia sp.</text>
</g>
</g>

<g id="panelC">
<g id="C-desulfobacterota">
<text x="1449.2" y="22" class="p">unc. <tspan class="i">Desulfosarcina</tspan> SAG G17</text>
<text x="1449.2" y="41.3" class="p">unc. <tspan class="i">Desulfosarcina</tspan> SAG A07</text>
<text x="1453.1" y="60.6" class="p">unc. <tspan class="i">Desulfosarcina</tspan> SAG B08</text>
<text x="1432.5" y="79.9" class="g"><tspan class="i">D. ovata</tspan> [Y17286]</text>
<text x="1427.8" y="99.2" class="g"><tspan class="i">D. variabilis</tspan> [M34407]</text>
<text x="1440.3" y="118.6">unc. clone [JQ215064] Δ</text>
<text x="1434.4" y="137.9">unc. clone [GU583972] •</text>
<text x="1422.7" y="157.2">unc. clone [FM242231] •</text>
<text x="1478.5" y="176.5" class="g"><tspan class="i">Desulfococcus biacutus</tspan> [AJ277887]</text>
<text x="1478.5" y="195.8" class="g"><tspan class="i">Desulfococcus multivorans</tspan> [AF418173]</text>
<text x="1550.3" y="215.1" class="p">unc. <tspan class="i">Desulfobacterales</tspan> SAG F15</text>
<text x="1440.3" y="234.4">unc. clone [HE803982] •</text>
<text x="1478.5" y="253.7">unc. clone [KJ569653] •</text>
<text x="1513.3" y="273" class="p">unc. <tspan class="i">Desulfobacterota</tspan> SAG K17</text>
<text x="1515.2" y="292.3">unc. clone [JX457170] †</text>
<text x="1504.7" y="311.7">unc. clone [KM650534] †</text>
<text x="1500" y="331">unc. clone [KM650905] †</text>
<text x="1498" y="350.3">unc. clone [JN680673] †</text>
<text x="1475.4" y="369.6" class="p">unc. <tspan class="i">Desulfobacterota</tspan> SAG M10</text>
</g>
<g id="C-frigididesulfovibrio">
<text x="1510.5" y="388.9" class="p">unc. <tspan class="i">Frigididesulfovibrio</tspan> SAG F20</text>
<text x="1510.5" y="408.2" class="p">unc. <tspan class="i">Frigididesulfovibrio</tspan> SAG M14</text>
<text x="1524.2" y="427.5" class="p">unc. <tspan class="i">Frigididesulfovibrio</tspan> SAG G11</text>
<text x="1519.1" y="446.8">unc. clone [FJ374258] ∼</text>
<text x="1493.7" y="466.1">unc. clone [JN680668] †</text>
<text x="1509.3" y="485.4" class="p">unc. <tspan class="i">Frigididesulfovibrio</tspan> SAG O18</text>
<text x="1520.3" y="504.7">unc. clone [KM650799] ∼</text>
<text x="1508.6" y="524.1">unc. clone [JN653056] ∼</text>
<text x="1520.3" y="543.4" class="p">unc. <tspan class="i">Frigididesulfovibrio</tspan> SAG C14</text>
<text x="1565.2" y="562.7">unc. clone [AB234537] ∼</text>
<text x="1504.7" y="582" class="p">unc. <tspan class="i">Frigididesulfovibrio</tspan> SAG C06</text>
<text x="1521.4" y="601.3">unc. clone [KF193235] ∼</text>
<text x="1493.7" y="620.6">unc. clone [KM650526] †</text>
<text x="1476.6" y="639.9" class="g"><tspan class="i">F. cuneatus</tspan> [X99501]</text>
<text x="1468.8" y="659.2" class="g"><tspan class="i">F. litoralis</tspan> [X99504]</text>
</g>
<g id="C-clade-labels">
<text class="cl" style="font-size:17px" text-anchor="middle" transform="translate(1710 81.7) rotate(90)">Desulfosarcina sp.</text>
<text x="1772" y="300">Rs-K70</text>
<text x="1772" y="320.3">termite group</text>
<text class="cl" style="font-size:17px" text-anchor="middle" transform="translate(1804 518) rotate(90)">Frigididesulfovibrio sp.</text>
</g>
</g>

<g id="panelD">
<text x="1534.7" y="822.7" class="g"><tspan class="i">O. vibrioformis</tspan> [FR733700]</text>
<text x="1528.1" y="841.7">unc. clone [FJ374254] ∼</text>
<text x="1530" y="861">unc. clone [KF318245] ∼</text>
<text x="1520.3" y="880" class="p">unc. <tspan class="i">Oxalobacter</tspan> SAG P03</text>
<text x="1502" y="899.3">unc. clone [AB234524] ∼</text>
<text class="cl" style="font-size:17px" x="1753.7" y="863.3">Oxalobacter sp.</text>
</g>

<g id="panelE" class="E">
<text x="1426.6" y="1050.5" class="g"><tspan class="i">Rectinema cohabitans</tspan> [KP297860] •</text>
<text x="1453.1" y="1070.5" class="g"><tspan class="i">Gracilinema caldarium</tspan> DSM 7334 [EU580141] •</text>
<text x="1491" y="1090.5" class="p">unc. <tspan class="i">Breznakiellaceae</tspan> SAG L16</text>
<text x="1499.6" y="1111.2" class="g"><tspan class="i">Breznakiella homolactica</tspan> strain RmG30 ∼</text>
<text x="1550.7" y="1131.9" class="g"><tspan class="i">Helmutkoenigia isoptericolens</tspan> [AM182455] ∼</text>
<text x="1528.1" y="1151.9" class="g"><tspan class="i">[Treponema] primitia</tspan> [AF093252] ∼</text>
<text x="1513.3" y="1171.9">uncultured clone [AB234368]</text>
<text x="1502.7" y="1191.9">uncultured clone [JQ245521] •</text>
<text x="1470.3" y="1212.9" class="g"><tspan class="i">Zuelzera stenostrepta</tspan> [FR733664] •</text>
<text x="1460.6" y="1233.9">uncultured clone [KM410356] •</text>
</g>

<g id="panelF">
<text x="1324.3" y="1375.3"><tspan class="i">Methanobrevibacter sp. LHD12</tspan> [AB026921] ∼</text>
<text x="1382.5" y="1394.3" class="g"><tspan class="i">M. woesei</tspan> [U55237]</text>
<text x="1379" y="1414.3" class="g"><tspan class="i">M. oralis</tspan> [HE654003]</text>
<text x="1370.8" y="1433.7" class="g"><tspan class="i">M. smithii ATCC 35061</tspan> [CP000678]</text>
<text x="1356.4" y="1452.7">unc. clone [JX833581] Δ</text>
<text x="1372" y="1472.7" class="p">unc. <tspan class="i">Methanobrevibacter</tspan> SAG I08</text>
<text x="1372" y="1492" class="p">unc. <tspan class="i">Methanobrevibacter</tspan> SAG K11</text>
<text x="1388.7" y="1511.7" class="g"><tspan class="i">M. acididurans</tspan> [AF242652]</text>
<text class="cl" style="font-size:17px" x="1694.7" y="1441">Methanobrevibacter sp.</text>
</g>

<g id="panelG">
<text x="1305.6" y="1669.3" class="g"><tspan class="i">Methanolobus oregonensis</tspan> [U20152]</text>
<text x="1411.8" y="1688.7" class="g"><tspan class="i">M. blatticola</tspan> [AJ238002] †</text>
<text x="1405.1" y="1708.7" class="p">unc. <tspan class="i">Methanimicrococcus</tspan> SAG J09</text>
<text x="1429.3" y="1728.7">unc. clone [JN173199] •</text>
<text x="1405.9" y="1748.3">unc. clone [AB541722] •</text>
<text x="1292" y="1768.3" class="g"><tspan class="i">Methanosalsum natronophilum</tspan> [HM053965]</text>
<text class="cl" style="font-size:17px" x="1690.8" y="1708.3">Methanimicrococcus sp.</text>
</g>
</svg>
